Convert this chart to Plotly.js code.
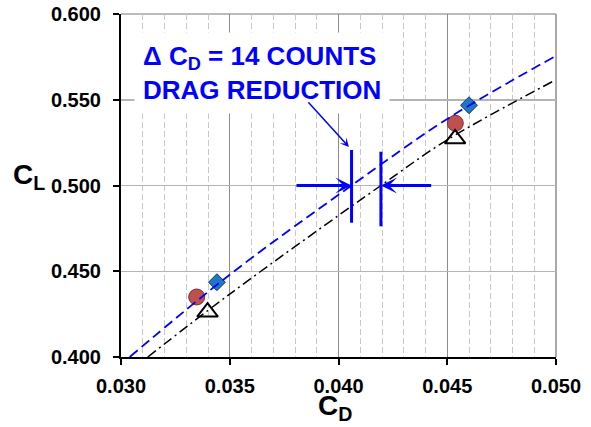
<!DOCTYPE html>
<html>
<head>
<meta charset="utf-8">
<script src="https://cdn.plot.ly/plotly-3.0.1.min.js"></script>
<style>html,body{margin:0;padding:0;background:#fff;}#chart{width:591px;height:427px;}</style>
</head>
<body>
<div id="chart"></div>
<script>
// Curves (CD, CL)
var blueCD = [0.0304, 0.0350, 0.0406, 0.0450, 0.0499];
var blueCL = [0.400, 0.448, 0.500, 0.5388, 0.5749];
var blackCD = [0.03123, 0.0350, 0.04195, 0.0450, 0.0499];
var blackCL = [0.400, 0.4367, 0.500, 0.5266, 0.561];
// Data points
var circleCD = [0.03348, 0.04537];
var circleCL = [0.4350, 0.5363];
var diamondCD = [0.03441, 0.0460];
var diamondCL = [0.4436, 0.5468];
var triangleCD = [0.03398, 0.04536];
var triangleCL = [0.4262, 0.5272];
// Annotation geometry
var barX = [0.0406, 0.04195];
var barYLow = [0.4783, 0.4762];
var barYHigh = [0.5207, 0.5197];
var arrowTailX = [0.0380, 0.04433];
var arrowHeadX = [0.0406, 0.04195];
var arrowY = 0.500;
var pointerHead = [0.04048, 0.5225];
var pointerTail = [0.03855, 0.5494];
var noteText = 'Δ C<sub>D</sub> = 14 COUNTS<br>DRAG REDUCTION';

var FONT = 'Liberation Sans, Arial, sans-serif';

var traces = [
  {x: circleCD, y: circleCL, mode: 'markers', type: 'scatter',
   marker: {symbol: 'circle', size: 16, color: '#C0504D', line: {color: '#7a3331', width: 1}}},
  {x: triangleCD, y: triangleCL, mode: 'markers', type: 'scatter',
   marker: {symbol: 'triangle-up-open', size: 18, color: '#000', line: {color: '#000', width: 2}}},
  {x: diamondCD, y: diamondCL, mode: 'markers', type: 'scatter',
   marker: {symbol: 'diamond', size: 13, color: '#1F78C4', line: {color: '#17375E', width: 1}}},
  {x: blackCD, y: blackCL, mode: 'lines', type: 'scatter',
   line: {color: '#000', width: 1.5, dash: '10px,4px,2px,4px', shape: 'spline', smoothing: 1}},
  {x: blueCD, y: blueCL, mode: 'lines', type: 'scatter',
   line: {color: '#0000FF', width: 1.8, dash: '10px,5px', shape: 'spline', smoothing: 1}}
];

var shapes = [
  {type: 'line', xref: 'paper', yref: 'paper', x0: 0, x1: 1, y0: 1, y1: 1, line: {color: '#a6a6a6', width: 1.5}, layer: 'below'},
  {type: 'line', xref: 'paper', yref: 'paper', x0: 1, x1: 1, y0: 0, y1: 1, line: {color: '#8c8c8c', width: 1.5}, layer: 'below'}
];
for (var i = 0; i < barX.length; i++) {
  shapes.push({type: 'line', xref: 'x', yref: 'y', x0: barX[i], x1: barX[i], y0: barYLow[i], y1: barYHigh[i],
    line: {color: '#0000FF', width: 3}});
}

var annotations = [
  {xref: 'x', yref: 'y', x: 0.03062, y: 0.5655, xanchor: 'left', yanchor: 'middle', align: 'left',
   text: noteText, showarrow: false, bgcolor: '#fff', borderpad: 8,
   font: {family: FONT, size: 26, color: '#0000FF', weight: 'bold'}},
  {xref: 'x', yref: 'y', axref: 'x', ayref: 'y', x: pointerHead[0], y: pointerHead[1], ax: pointerTail[0], ay: pointerTail[1],
   text: '', showarrow: true, arrowhead: 3, arrowsize: 1, arrowwidth: 1.5, arrowcolor: '#0000FF', standoff: 0, startstandoff: 0},
  {xref: 'paper', yref: 'paper', x: -0.253, y: 0.525, xanchor: 'left', yanchor: 'middle', showarrow: false,
   text: 'C<sub>L</sub>', font: {family: FONT, size: 28, color: '#000', weight: 'bold'}},
  {xref: 'paper', yref: 'paper', x: 0.448, y: -0.146, xanchor: 'left', yanchor: 'middle', showarrow: false,
   text: 'C<sub>D</sub>', font: {family: FONT, size: 28, color: '#000', weight: 'bold'}}
];
for (var j = 0; j < arrowTailX.length; j++) {
  annotations.push({xref: 'x', yref: 'y', axref: 'x', ayref: 'y', x: arrowHeadX[j], y: arrowY, ax: arrowTailX[j], ay: arrowY,
    text: '', showarrow: true, arrowhead: 3, arrowsize: 0.9, arrowwidth: 3, arrowcolor: '#0000FF', standoff: 0, startstandoff: 0});
}

var axisCommon = {
  showline: true, linecolor: '#000', linewidth: 2, ticks: 'outside', ticklen: 6, tickwidth: 2, tickcolor: '#000',
  zeroline: false, tickformat: '.3f',
  tickfont: {family: FONT, size: 20, color: '#000', weight: 'bold'}
};

var layout = {
  width: 591, height: 427,
  margin: {l: 121, r: 35, t: 14, b: 70, pad: 0},
  paper_bgcolor: '#fff', plot_bgcolor: '#fff',
  showlegend: false,
  xaxis: Object.assign({}, axisCommon, {
    range: [0.030, 0.050], tickmode: 'linear', tick0: 0.030, dtick: 0.005, ticklabelstandoff: 4,
    showgrid: true, gridcolor: '#8c8c8c', gridwidth: 1.3,
    minor: {tick0: 0.030, dtick: 0.001, showgrid: true, gridcolor: '#c8c8c8', gridwidth: 1, griddash: '6px,3px', ticks: ''}
  }),
  yaxis: Object.assign({}, axisCommon, {
    range: [0.400, 0.600], tickmode: 'linear', tick0: 0.400, dtick: 0.050, ticklabelstandoff: 8,
    showgrid: true, gridcolor: '#b4b4b4', gridwidth: 1.5
  }),
  shapes: shapes,
  annotations: annotations
};

Plotly.newPlot('chart', traces, layout, {displayModeBar: false, staticPlot: true});
</script>
</body>
</html>
